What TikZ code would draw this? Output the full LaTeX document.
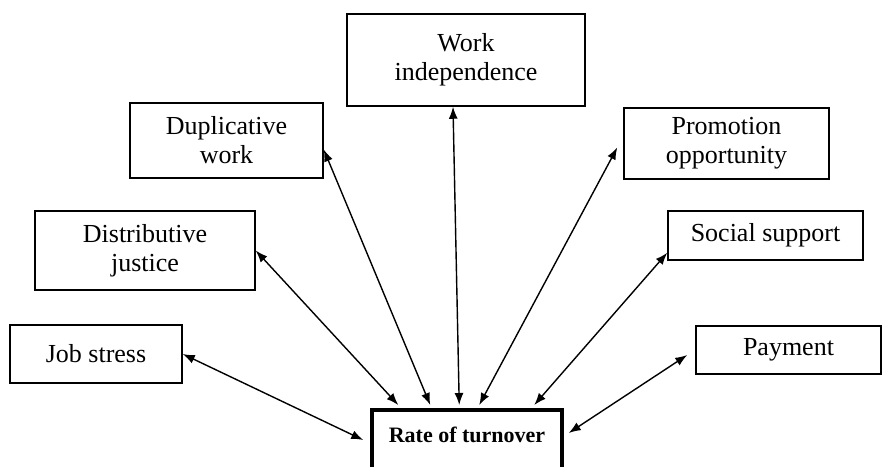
\documentclass[tikz,border=0pt]{standalone}
\usepackage{fontspec}
\setmainfont{Liberation Serif}
\usetikzlibrary{arrows.meta}
\begin{document}
\begin{tikzpicture}[x=1pt,y=-1pt,
    factor/.style={draw,line width=1.5pt,inner sep=0pt,align=center,
      font=\fontsize{26}{29}\selectfont},
    outcome/.style={draw,line width=3.5pt,inner sep=0pt,anchor=north,
      minimum width=190pt,text height=33pt,text depth=40pt,
      font=\bfseries\fontsize{22}{25}\selectfont},
    link/.style={line width=1.4pt,
      {Latex[length=12pt,width=9pt]}-{Latex[length=12pt,width=9pt]}}]
  \useasboundingbox (0,0) rectangle (883,466);
  \clip (0,0) rectangle (883,466);
  \draw
    (96,354) node[factor,minimum width=172pt,minimum height=58pt] (js){Job stress}
    (145,250.5) node[factor,minimum width=220pt,minimum height=79pt] (dj){Distributive\\justice}
    (226.5,140.5) node[factor,minimum width=193pt,minimum height=75pt] (dw){Duplicative\\work}
    (466,60) node[factor,minimum width=238pt,minimum height=92pt] (wi){Work\\independence}
    (726.5,143.5) node[factor,minimum width=205pt,minimum height=71pt] (po){Promotion\\opportunity}
    (765.5,235.5) node[factor,minimum width=195pt,minimum height=49pt] (ss){Social support}
    (788.5,350) node[factor,minimum width=185pt,minimum height=48pt] (pay){Payment}
    (467,408) node[outcome] (rate){Rate of turnover};
  \begin{scope}[link]
    \draw (js.east) to ([xshift=-7pt,yshift=-32pt]rate.north west);
    \draw (dj.east) to ([xshift=28pt,yshift=3pt]rate.north west);
    \draw ([yshift=-9pt]dw.east) to ([xshift=60pt,yshift=3pt]rate.north west);
    \draw ([xshift=-13pt]wi.south) to ([xshift=89pt,yshift=3pt]rate.north west);
    \draw ([xshift=-6pt,yshift=-4pt]po.west) to ([xshift=109pt,yshift=3pt]rate.north west);
    \draw ([yshift=8pt]ss.south west) to ([xshift=164pt,yshift=3pt]rate.north west);
    \draw ([xshift=-8pt,yshift=-5pt]pay.west) to ([xshift=5pt,yshift=-25pt]rate.north east);
  \end{scope}
\end{tikzpicture}
\end{document}
